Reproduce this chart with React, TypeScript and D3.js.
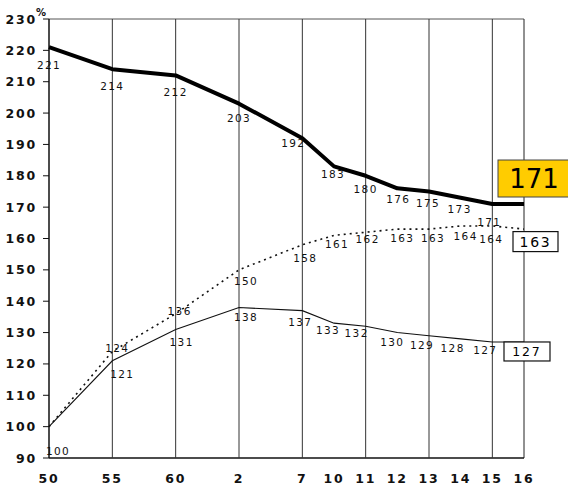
import React from "react";
import * as d3 from "d3";

// Reporting points: Showa 50/55/60, then Heisei years
const categories = ["50", "55", "60", "2", "7", "10", "11", "12", "13", "14", "15", "16"];
const years = [1975, 1980, 1985, 1990, 1995, 1998, 1999, 2000, 2001, 2002, 2003, 2004];
const gridCategories = ["55", "60", "2", "7", "11", "13", "15"];
const yTicks = [90, 100, 110, 120, 130, 140, 150, 160, 170, 180, 190, 200, 210, 220, 230];

// Index values (%)
const seriesBold = [221, 214, 212, 203, 192, 183, 180, 176, 175, 173, 171, 171];
const seriesDotted = [100, 124, 136, 150, 158, 161, 162, 163, 163, 164, 164, 163];
const seriesThin = [100, 121, 131, 138, 137, 133, 132, 130, 129, 128, 127, 127];

// Value-label nudges [dx, dy] from each point
const boldNudge: [number, number][] = [
  [0, 18], [0, 17], [0, 17], [0, 14], [-9, 5], [-1, 8], [0, 13], [1, 11], [-1, 12], [-1, 11], [-3, 18],
];
const dottedNudge: [number, number][] = [
  [0, 0], [5, -3], [4, -3], [7, 11], [3, 13], [3, 9], [2, 7], [5, 9], [4, 9], [5, 10], [-1, 13],
];
const thinNudge: [number, number][] = [
  [9, 24], [10, 13], [6, 13], [7, 10], [-2, 11], [-6, 7], [-9, 7], [-5, 9], [-7, 9], [-8, 9], [-7, 8],
];

const W = 568;
const H = 486;
const left = 49;
const right = 524;
const top = 19;
const bottom = 458;

// Five-year steps take a double slot, single years a single slot
const slots: number[] = years.reduce((acc: number[], yr, i) => {
  if (i === 0) return [0];
  const gap = yr - years[i - 1];
  acc.push(acc[i - 1] + (gap >= 5 ? 2 : 1));
  return acc;
}, []);

const x = d3.scaleLinear().domain([0, slots[slots.length - 1]]).range([left, right]);
const y = d3.scaleLinear().domain([90, 230]).range([bottom, top]);
const xAt = (i: number) => x(slots[i]);

const lineGen = d3
  .line<number>()
  .x((_, i) => xAt(i))
  .y((d) => y(d));

const labelFont = "DejaVu Sans, sans-serif";

function ValueLabels({ values, nudges, skipFirst }: { values: number[]; nudges: [number, number][]; skipFirst?: boolean }) {
  return (
    <g>
      {nudges.map((n, i) => {
        if (skipFirst && i === 0) return null;
        return (
          <text
            key={i}
            x={xAt(i) + n[0]}
            y={y(values[i]) + n[1]}
            textAnchor="middle"
            dominantBaseline="central"
            fontSize={10.5}
            letterSpacing={1.4}
            fontFamily={labelFont}
            fill="#111"
          >
            {values[i]}
          </text>
        );
      })}
    </g>
  );
}

export default function App() {
  const last = categories.length - 1;
  const xLast = xAt(last);
  return (
    <svg
      width={W}
      height={H}
      style={{ position: "absolute", left: 0, top: 0, background: "#fff" }}
    >
      <rect width={W} height={H} fill="#fff" />

      {/* frame */}
      <line x1={left} x2={right} y1={top} y2={top} stroke="#555" strokeWidth={1} />
      <line x1={right} x2={right} y1={top} y2={bottom} stroke="#222" strokeWidth={1} />
      <line x1={left} x2={left} y1={top} y2={bottom} stroke="#111" strokeWidth={1.5} />
      <line x1={left} x2={right} y1={bottom} y2={bottom} stroke="#111" strokeWidth={1.5} />

      {/* vertical grid */}
      {gridCategories.map((c) => {
        const xi = xAt(categories.indexOf(c));
        return <line key={c} x1={xi} x2={xi} y1={top} y2={bottom} stroke="#333" strokeWidth={1} />;
      })}

      {/* y axis */}
      {yTicks.map((t) => (
        <g key={t}>
          <line x1={left - 6} x2={left} y1={y(t)} y2={y(t)} stroke="#111" strokeWidth={1} />
          <text
            x={37}
            y={y(t)}
            textAnchor="end"
            dominantBaseline="central"
            fontSize={12.5}
            fontWeight="bold"
            letterSpacing={1.8}
            fontFamily={labelFont}
            fill="#111"
          >
            {t}
          </text>
        </g>
      ))}
      <text x={41} y={12} textAnchor="middle" dominantBaseline="central" fontSize={10} fontWeight="bold" fontFamily={labelFont} fill="#111">
        %
      </text>

      {/* x axis labels */}
      {categories.map((c, i) => (
        <text
          key={c}
          x={xAt(i)}
          y={478}
          textAnchor="middle"
          dominantBaseline="central"
          fontSize={12.5}
          fontWeight="bold"
          letterSpacing={1.8}
          fontFamily={labelFont}
          fill="#111"
        >
          {c}
        </text>
      ))}

      {/* series */}
      <path d={lineGen(seriesThin) || ""} fill="none" stroke="#111" strokeWidth={1.1} />
      <path d={lineGen(seriesDotted) || ""} fill="none" stroke="#111" strokeWidth={1.6} strokeDasharray="2,4" />
      <path d={lineGen(seriesBold) || ""} fill="none" stroke="#000" strokeWidth={4} strokeLinejoin="round" />

      {/* value labels */}
      <ValueLabels values={seriesBold} nudges={boldNudge} />
      <ValueLabels values={seriesDotted} nudges={dottedNudge} skipFirst />
      <ValueLabels values={seriesThin} nudges={thinNudge} />

      {/* end-point callouts */}
      <g>
        <rect x={xLast - 26} y={y(seriesBold[last]) - 44} width={72} height={37} fill="#FFCC00" stroke="#444" strokeWidth={1} />
        <text
          x={xLast + 10}
          y={y(seriesBold[last]) - 25}
          textAnchor="middle"
          dominantBaseline="central"
          fontSize={26}
          fontFamily={labelFont}
          fill="#000"
        >
          {seriesBold[last]}
        </text>
      </g>
      <g>
        <rect x={xLast - 11} y={y(seriesDotted[last]) + 2.5} width={45} height={20} fill="#fff" stroke="#111" strokeWidth={1.2} />
        <text
          x={xLast + 11.5}
          y={y(seriesDotted[last]) + 12.5}
          textAnchor="middle"
          dominantBaseline="central"
          fontSize={14}
          letterSpacing={1.8}
          fontFamily={labelFont}
          fill="#000"
        >
          {seriesDotted[last]}
        </text>
      </g>
      <g>
        <rect x={xLast - 20} y={y(seriesThin[last])} width={46} height={19} fill="#fff" stroke="#111" strokeWidth={1.2} />
        <text
          x={xLast + 3}
          y={y(seriesThin[last]) + 9.5}
          textAnchor="middle"
          dominantBaseline="central"
          fontSize={12.5}
          letterSpacing={1.8}
          fontFamily={labelFont}
          fill="#000"
        >
          {seriesThin[last]}
        </text>
      </g>
    </svg>
  );
}
